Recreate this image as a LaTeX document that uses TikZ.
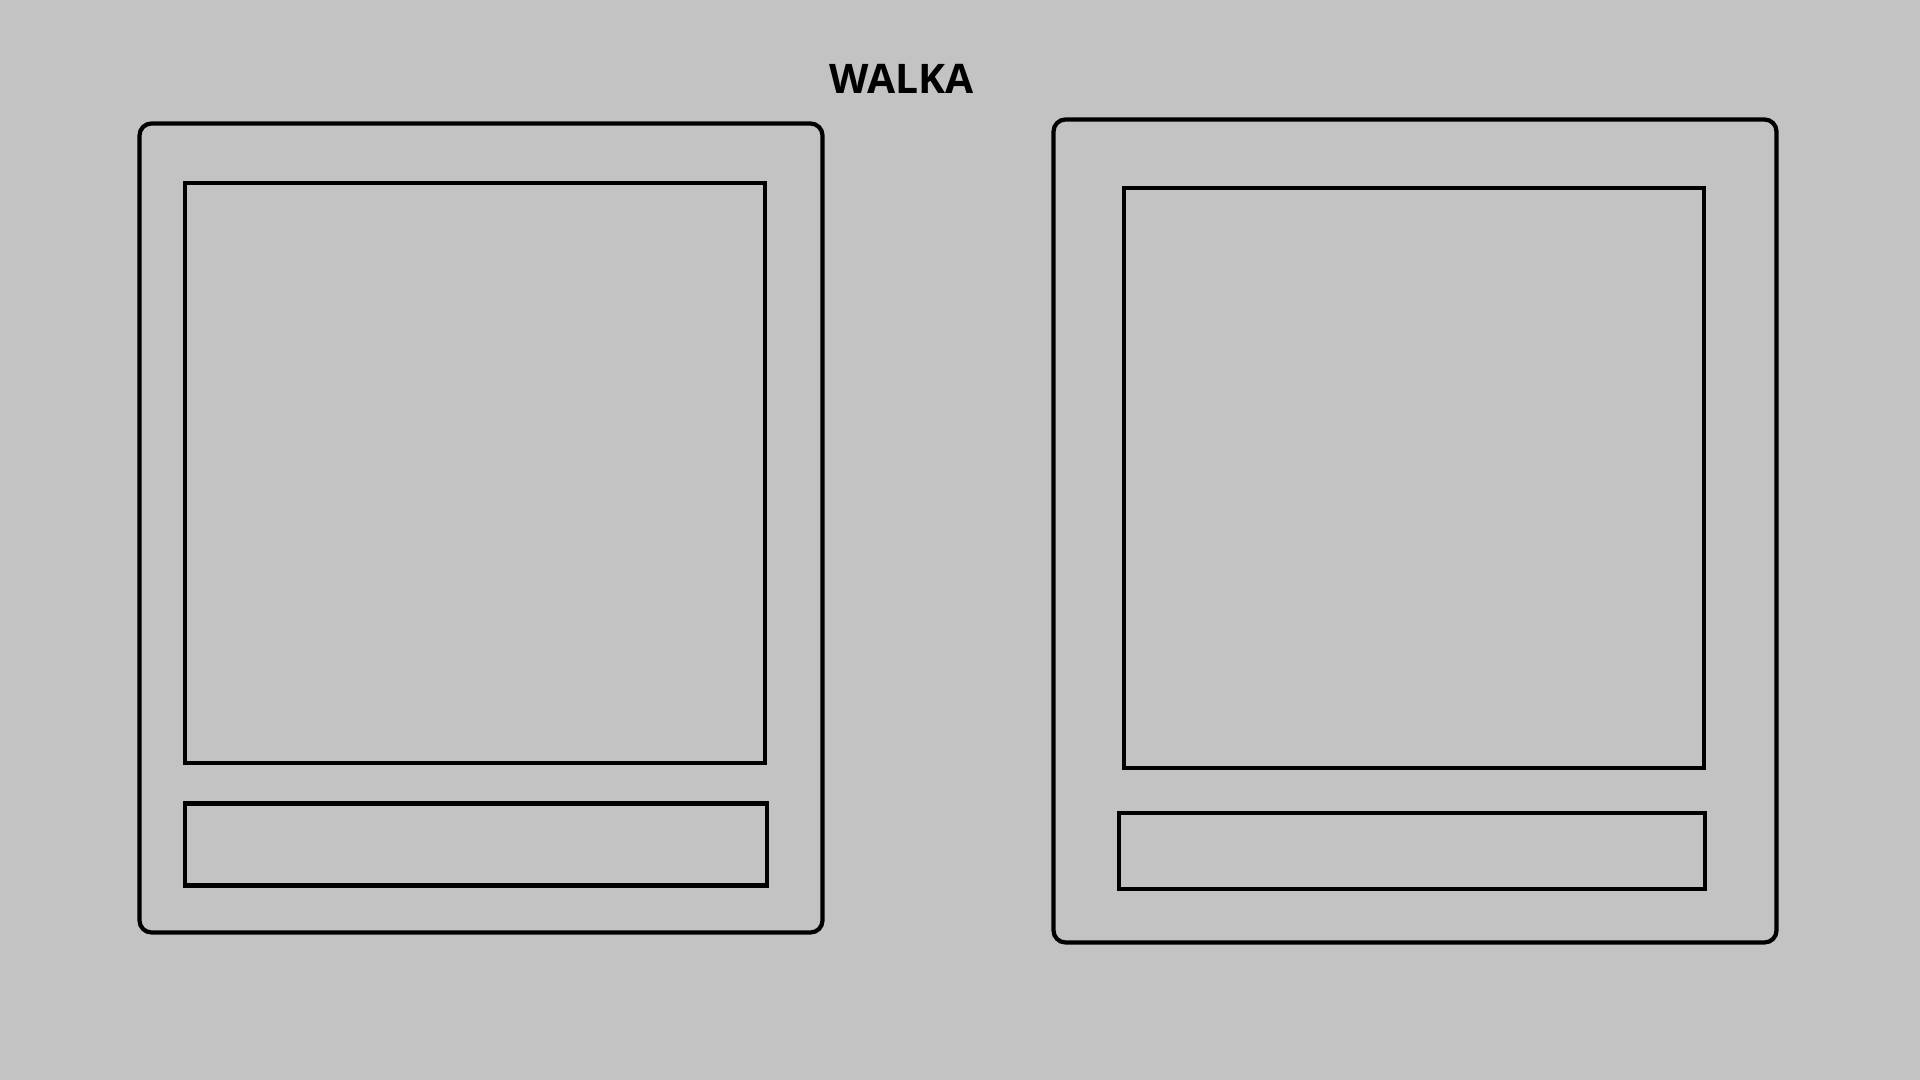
\documentclass[tikz,border=0pt]{standalone}
\usepackage{fontspec}
\setmainfont{Open Sans}
\usetikzlibrary{positioning}
\definecolor{bggray}{RGB}{195,195,195}
\tikzstyle{card} = [draw, rectangle, rounded corners=0.12cm, line width=0.042cm, inner sep=0pt, outer sep=0pt]
\tikzstyle{block} = [draw, rectangle, line width=0.042cm, inner sep=0pt, outer sep=0pt]
\tikzstyle{title} = [font=\bfseries\fontsize{11.6}{14}\selectfont, inner sep=0pt]

\begin{document}
\begin{tikzpicture}
\fill [bggray] (0,0) rectangle (19.2,10.8);
\useasboundingbox (0,0) rectangle (19.2,10.8);

\node [title, anchor=base] (walka) at (9.015,9.86) {WALKA};

% left card
\node [card, minimum width=6.83cm, minimum height=8.09cm] (lcard) at (4.81,5.52) {};
\node [block, minimum width=5.80cm, minimum height=5.80cm] (lscreen) at (4.75,6.07) {};
\node [block, minimum width=5.82cm, minimum height=0.82cm] (lbar) at (4.76,2.355) {};

% right card
\node [card, minimum width=7.23cm, minimum height=8.23cm] (rcard) at (14.15,5.49) {};
\node [block, minimum width=5.80cm, minimum height=5.80cm] (rscreen) at (14.14,6.02) {};
\node [block, minimum width=5.86cm, minimum height=0.76cm] (rbar) at (14.12,2.29) {};
\end{tikzpicture}
\end{document}
